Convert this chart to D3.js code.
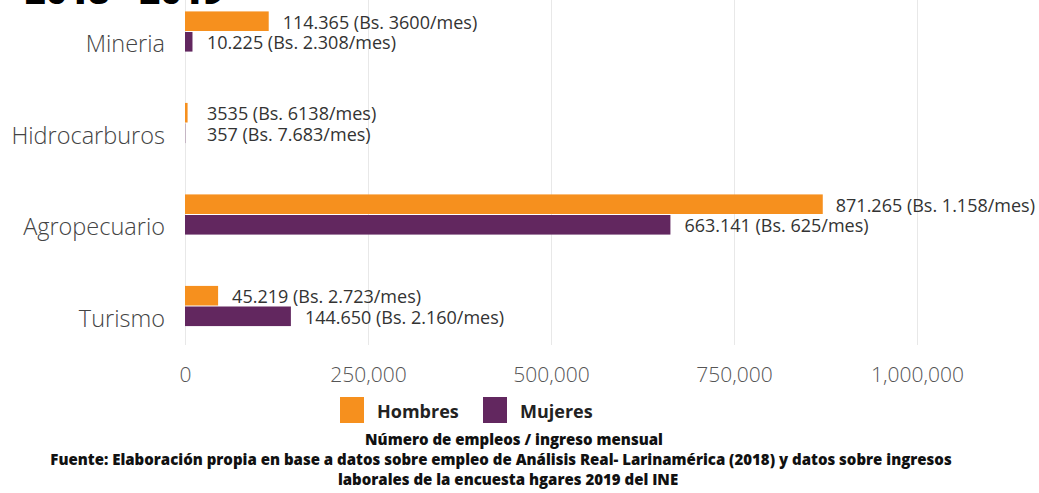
<!DOCTYPE html>
<html>
<head>
<meta charset="utf-8">
<script src="https://cdn.jsdelivr.net/npm/d3@7"></script>
<style>
  html, body { margin: 0; padding: 0; background: #fff; }
  svg { display: block; font-family: "Open Sans", sans-serif; }
</style>
</head>
<body>
<svg id="chart" width="1039" height="493"></svg>
<script>
// Employment by sector and sex, with monthly income
const categories = ["Mineria", "Hidrocarburos", "Agropecuario", "Turismo"];
const seriesNames = ["Hombres", "Mujeres"];
const hombres = [114365, 3535, 871265, 45219];
const mujeres = [10225, 357, 663141, 144650];
const hombresLabels = ["114.365 (Bs. 3600/mes)", "3535 (Bs. 6138/mes)", "871.265 (Bs. 1.158/mes)", "45.219 (Bs. 2.723/mes)"];
const mujeresLabels = ["10.225 (Bs. 2.308/mes)", "357 (Bs. 7.683/mes)", "663.141 (Bs. 625/mes)", "144.650 (Bs. 2.160/mes)"];
const xTicks = [0, 250000, 500000, 750000, 1000000];
const colors = ["#f6901e", "#62275f"];

const W = 1039, H = 493;
const svg = d3.select("#chart");

const x = d3.scaleLinear().domain([0, 1000000]).range([185, 917]);
const y = d3.scaleBand().domain(categories).range([-13.75, 352.25])
  .paddingInner(0.55).paddingOuter(0.275);
const ySub = d3.scaleBand().domain(seriesNames).range([0, y.bandwidth()]);

// Title (runs off the top edge of the page)
svg.append("text")
  .attr("x", 25).attr("y", 4)
  .attr("font-size", 36).attr("font-weight", 800)
  .attr("fill", "#000")
  .text("2018 - 2019");

// Vertical gridlines
svg.append("g").selectAll("line").data(xTicks).join("line")
  .attr("x1", d => x(d) + 0.5).attr("x2", d => x(d) + 0.5)
  .attr("y1", 0).attr("y2", 345)
  .attr("stroke", "#e8e8e8").attr("stroke-width", 1);

// X axis tick labels
const xAxis = d3.axisBottom(x).tickValues(xTicks).tickSize(0).tickPadding(0)
  .tickFormat(d3.format(","));
const gx = svg.append("g").attr("transform", "translate(0,367)").call(xAxis);
gx.select(".domain").remove();
gx.selectAll("text")
  .attr("font-family", "Open Sans, sans-serif")
  .attr("font-size", 21).attr("font-weight", 300)
  .attr("fill", "#555").attr("dy", "0.71em");

// Category labels
const yAxis = d3.axisLeft(y).tickSize(0).tickPadding(0);
const gy = svg.append("g").attr("transform", "translate(165,0)").call(yAxis);
gy.select(".domain").remove();
gy.selectAll(".tick").attr("transform", d => `translate(0,${y(d) + ySub("Mujeres") + ySub.bandwidth() / 2 + 1.5})`);
gy.selectAll("text")
  .attr("font-family", "Open Sans, sans-serif")
  .attr("font-size", 23.5).attr("font-weight", 300)
  .attr("fill", "#444").attr("dy", "0.35em");

// Bars
const rows = categories.map((c, i) => ({
  cat: c,
  vals: [
    { s: "Hombres", v: hombres[i], label: hombresLabels[i] },
    { s: "Mujeres", v: mujeres[i], label: mujeresLabels[i] }
  ]
}));

const groups = svg.append("g").selectAll("g").data(rows).join("g")
  .attr("transform", d => `translate(0,${y(d.cat)})`);

groups.selectAll("rect").data(d => d.vals).join("rect")
  .attr("x", x(0))
  .attr("y", d => ySub(d.s))
  .attr("width", d => x(d.v) - x(0))
  .attr("height", ySub.bandwidth() - 1)
  .attr("fill", (d, i) => colors[i]);

// Value labels, kept inside the page
groups.selectAll("text").data(d => d.vals).join("text")
  .attr("y", d => ySub(d.s) + ySub.bandwidth() / 2)
  .attr("dy", "0.38em")
  .attr("font-size", 18).attr("fill", "#333")
  .text(d => d.label)
  .each(function (d) {
    const w = this.getComputedTextLength();
    const px = Math.min(Math.max(x(d.v) + 14, x(0) + 22), W - w - 4);
    d3.select(this).attr("x", px);
  });

// Legend
const legend = svg.append("g").attr("transform", "translate(340,397)");
const li = legend.selectAll("g").data(seriesNames).join("g")
  .attr("transform", (d, i) => `translate(${i * 143},0)`);
li.append("rect").attr("width", 24).attr("height", 26)
  .attr("fill", (d, i) => colors[i]);
li.append("text").attr("x", 37).attr("y", 21)
  .attr("font-size", 18).attr("font-weight", 700).attr("fill", "#222")
  .text(d => d);

// Footer notes
const notes = [
  { t: "Número de empleos / ingreso mensual", x: 514, y: 445 },
  { t: "Fuente: Elaboración propia en base a datos sobre empleo de Análisis Real- Larinamérica (2018) y datos sobre ingresos", x: 501, y: 465 },
  { t: "laborales de la encuesta hgares 2019 del INE", x: 508, y: 485 }
];
svg.append("g").selectAll("text").data(notes).join("text")
  .attr("x", d => d.x).attr("y", d => d.y)
  .attr("text-anchor", "middle")
  .attr("font-size", 15).attr("font-weight", 800).attr("fill", "#111")
  .text(d => d.t);
</script>
</body>
</html>
